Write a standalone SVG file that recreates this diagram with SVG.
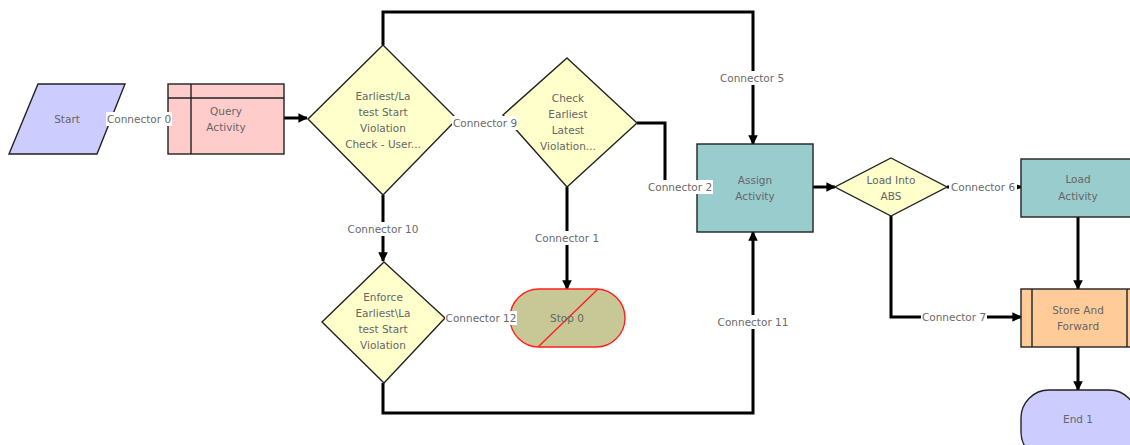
<svg xmlns="http://www.w3.org/2000/svg" width="1130" height="445" viewBox="0 0 1130 445">
  <defs>
    <marker id="arrow" viewBox="0 0 10 10" refX="9" refY="5" markerWidth="3.2" markerHeight="3.2" orient="auto" markerUnits="strokeWidth">
      <path d="M0,0 L10,5 L0,10 z" fill="#000"/>
    </marker>
    <style>
      .shape { stroke: #222; stroke-width: 1.4; }
      .label { font-family: "DejaVu Sans", sans-serif; font-size: 10.5px; fill: #666; text-anchor: middle; dominant-baseline: central; }
      .conn { fill: none; stroke: #000; stroke-width: 3; }
      .clabel { font-family: "DejaVu Sans", sans-serif; font-size: 10.5px; fill: #6a6a6a; text-anchor: middle; dominant-baseline: central; }
      .bg { fill: #fff; }
    </style>
  </defs>
  <rect width="1130" height="445" fill="#fff"/>

  <!-- connectors -->
  <g id="connectors">
    <path class="conn" d="M284,118 H307" marker-end="url(#arrow)"/>
    <path class="conn" d="M383,45 V12 H753 V144" marker-end="url(#arrow)"/>
    <path class="conn" d="M637,123 H665 V187 H697" marker-end="url(#arrow)"/>
    <path class="conn" d="M567,187 V289" marker-end="url(#arrow)"/>
    <path class="conn" d="M383,195 V261" marker-end="url(#arrow)"/>
    <path class="conn" d="M383,383 V413 H753 V232" marker-end="url(#arrow)"/>
    <path class="conn" d="M813,187 H835" marker-end="url(#arrow)"/>
    <path class="conn" d="M947,187 H1021" marker-end="url(#arrow)"/>
    <path class="conn" d="M1078,217 V289" marker-end="url(#arrow)"/>
    <path class="conn" d="M891,216 V317 H1021" marker-end="url(#arrow)"/>
    <path class="conn" d="M1078,347 V390" marker-end="url(#arrow)"/>
  </g>

  <!-- nodes -->
  <g id="start">
    <polygon class="shape" points="38,84 125,84 97,154 9,154" fill="#ccccff"/>
    <text class="label" x="67" y="119">Start</text>
  </g>
  <g id="query-activity">
    <rect class="shape" x="168" y="84" width="116" height="70" fill="#ffcccc"/>
    <path class="shape" d="M191,84 V154 M168,98 H284" fill="none"/>
    <text class="label" x="226" y="111">Query</text>
    <text class="label" x="226" y="127">Activity</text>
  </g>
  <g id="violation-check">
    <polygon class="shape" points="383,45 457,119 383,195 308,119" fill="#ffffcc"/>
    <text class="label" x="383" y="96">Earliest/La</text>
    <text class="label" x="383" y="112">test Start</text>
    <text class="label" x="383" y="128">Violation</text>
    <text class="label" x="383" y="144">Check - User...</text>
  </g>
  <g id="check-earliest-latest">
    <polygon class="shape" points="567,58 637,123 567,187 503,115" fill="#ffffcc"/>
    <text class="label" x="568" y="98">Check</text>
    <text class="label" x="568" y="114">Earliest</text>
    <text class="label" x="568" y="130">Latest</text>
    <text class="label" x="568" y="146">Violation...</text>
  </g>
  <g id="enforce-violation">
    <polygon class="shape" points="384,262 445,318 384,383 322,322" fill="#ffffcc"/>
    <text class="label" x="383" y="297">Enforce</text>
    <text class="label" x="383" y="313">Earliest\La</text>
    <text class="label" x="383" y="329">test Start</text>
    <text class="label" x="383" y="345">Violation</text>
  </g>
  <g id="stop-0">
    <rect x="510" y="289" width="115" height="58" rx="29" ry="29" fill="#c8c896" stroke="#ff2020" stroke-width="1.4"/>
    <line x1="598" y1="289" x2="538" y2="347" stroke="#ff2020" stroke-width="1.4"/>
    <text class="label" x="567" y="318">Stop 0</text>
  </g>
  <g id="assign-activity">
    <rect class="shape" x="697" y="144" width="116" height="88" fill="#99cccc"/>
    <text class="label" x="755" y="180">Assign</text>
    <text class="label" x="755" y="196">Activity</text>
  </g>
  <g id="load-into-abs">
    <polygon class="shape" points="891,158 947,187 891,216 835,187" fill="#ffffcc"/>
    <text class="label" x="891" y="180">Load Into</text>
    <text class="label" x="891" y="196">ABS</text>
  </g>
  <g id="load-activity">
    <rect class="shape" x="1021" y="159" width="116" height="58" fill="#99cccc"/>
    <text class="label" x="1078" y="179">Load</text>
    <text class="label" x="1078" y="196">Activity</text>
  </g>
  <g id="store-and-forward">
    <rect class="shape" x="1021" y="289" width="116" height="58" fill="#ffcc99"/>
    <path class="shape" d="M1032,289 V347 M1127,289 V347" fill="none"/>
    <text class="label" x="1078" y="310">Store And</text>
    <text class="label" x="1078" y="326">Forward</text>
  </g>
  <g id="end-1">
    <rect class="shape" x="1021" y="390" width="116" height="70" rx="28" ry="28" fill="#ccccff"/>
    <text class="label" x="1078" y="419">End 1</text>
  </g>

  <!-- connector labels -->
  <g id="connector-labels">
    <rect class="bg" x="106" y="112" width="66" height="14"/>
    <text class="clabel" x="139" y="119">Connector 0</text>
    <rect class="bg" x="452" y="116" width="66" height="14"/>
    <text class="clabel" x="485" y="123">Connector 9</text>
    <rect class="bg" x="719" y="71" width="66" height="14"/>
    <text class="clabel" x="752" y="78">Connector 5</text>
    <rect class="bg" x="647" y="180" width="66" height="14"/>
    <text class="clabel" x="680" y="187">Connector 2</text>
    <rect class="bg" x="532" y="231" width="70" height="14"/>
    <text class="clabel" x="567" y="238">Connector 1</text>
    <rect class="bg" x="346" y="222" width="74" height="14"/>
    <text class="clabel" x="383" y="229">Connector 10</text>
    <rect class="bg" x="445" y="311" width="72" height="14"/>
    <text class="clabel" x="481" y="318">Connector 12</text>
    <rect class="bg" x="716" y="315" width="74" height="14"/>
    <text class="clabel" x="753" y="322">Connector 11</text>
    <rect class="bg" x="949" y="180" width="68" height="14"/>
    <text class="clabel" x="983" y="187">Connector 6</text>
    <rect class="bg" x="921" y="310" width="66" height="14"/>
    <text class="clabel" x="954" y="317">Connector 7</text>
  </g>
</svg>
